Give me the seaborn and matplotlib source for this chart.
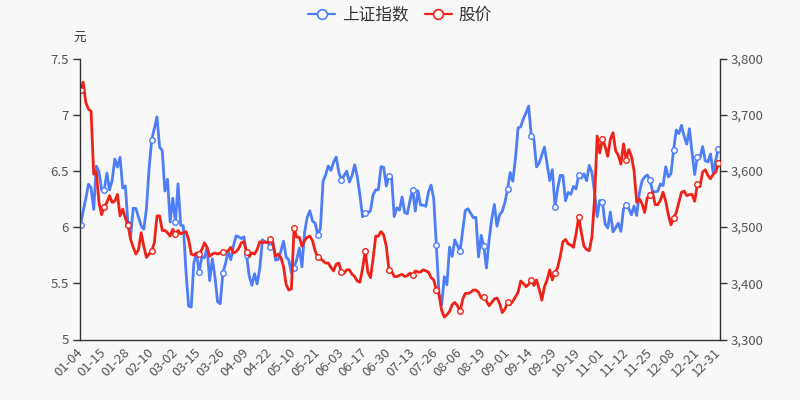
import pandas as pd
import matplotlib
matplotlib.use('Agg')
import matplotlib.pyplot as plt
from matplotlib.lines import Line2D
from matplotlib.ticker import FuncFormatter
import seaborn as sns

# ---------------- data ----------------
holidays = ['2021-01-01', '2021-02-11', '2021-02-12', '2021-02-15', '2021-02-16',
            '2021-02-17', '2021-04-05', '2021-05-03', '2021-05-04', '2021-05-05',
            '2021-06-14', '2021-09-20', '2021-09-21', '2021-10-01', '2021-10-04',
            '2021-10-05', '2021-10-06', '2021-10-07']
dates = [d.strftime('%m-%d') for d in
         pd.bdate_range('2021-01-01', '2021-12-31', freq='C', holidays=holidays)]

sse_index = [
    # Jan
    3502.96, 3528.68, 3550.88, 3576.20, 3570.11, 3531.50, 3608.34, 3598.65, 3565.90, 3566.38,
    3596.22, 3566.12, 3583.09, 3621.26, 3606.75, 3624.24, 3569.43, 3573.34, 3505.18, 3483.07,
    # Feb
    3533.68, 3533.06, 3517.31, 3501.86, 3496.33, 3532.44, 3603.49, 3655.09, 3675.36, 3696.17,
    3642.44, 3636.36, 3564.08, 3585.05, 3509.08,
    # Mar
    3551.40, 3508.59, 3576.90, 3503.49, 3501.99, 3421.41, 3359.29, 3357.74, 3436.83, 3453.08,
    3419.95, 3446.73, 3445.55, 3463.07, 3404.66, 3443.44, 3411.51, 3367.06, 3363.59, 3418.33,
    3435.30, 3456.68, 3441.91,
    # Apr
    3466.33, 3484.39, 3482.59, 3479.63, 3482.55, 3450.68, 3412.95, 3396.47, 3416.99, 3398.99,
    3426.62, 3477.55, 3472.94, 3472.93, 3465.11, 3474.17, 3441.17, 3442.61, 3457.07, 3474.90,
    3446.86,
    # May
    3441.28, 3418.87, 3427.99, 3441.85, 3462.75, 3429.54, 3490.38, 3517.62, 3529.01, 3510.96,
    3506.94, 3486.56, 3497.28, 3581.34, 3593.36, 3608.85, 3600.78, 3615.48,
    # Jun
    3624.71, 3597.14, 3584.22, 3591.84, 3599.54, 3580.11, 3591.40, 3610.86, 3589.75, 3556.56,
    3518.33, 3525.10, 3525.10, 3529.18, 3557.41, 3566.22, 3566.65, 3607.56, 3606.37, 3573.18,
    3591.20,
    # Jul
    3588.78, 3518.76, 3534.32, 3530.26, 3553.72, 3525.50, 3524.09, 3547.84, 3566.47, 3528.50,
    3564.59, 3539.30, 3539.12, 3536.79, 3562.70, 3574.73, 3550.40, 3467.44, 3381.18, 3361.59,
    3411.72, 3397.36,
    # Aug
    3464.29, 3447.99, 3477.22, 3466.56, 3458.23, 3494.63, 3529.93, 3532.62, 3524.74, 3516.76,
    3517.34, 3446.98, 3485.29, 3465.55, 3427.33, 3477.13, 3514.47, 3540.38, 3501.66, 3522.16,
    3528.15, 3543.94,
    # Sep
    3567.10, 3597.04, 3581.73, 3621.86, 3676.59, 3678.63, 3693.13, 3703.11, 3715.37, 3662.60,
    3656.22, 3607.09, 3613.97, 3628.49, 3642.22, 3613.07, 3582.83, 3602.22, 3536.29, 3568.17,
    # Oct
    3592.17, 3591.71, 3546.94, 3561.76, 3558.28, 3572.37, 3568.14, 3593.15, 3587.00, 3594.78,
    3582.60, 3609.86, 3597.64, 3562.31, 3518.42, 3547.34,
    # Nov
    3544.48, 3505.63, 3498.54, 3526.87, 3491.57, 3498.63, 3507.00, 3492.46, 3532.79, 3539.10,
    3533.30, 3521.79, 3537.37, 3520.71, 3560.37, 3582.08, 3589.09, 3592.70, 3584.18, 3564.09,
    3562.70, 3563.89,
    # Dec
    3576.89, 3573.84, 3607.43, 3589.31, 3595.09, 3637.57, 3673.04, 3666.35, 3681.08, 3661.53,
    3647.63, 3675.02, 3632.36, 3593.60, 3625.13, 3622.62, 3643.34, 3618.05, 3615.97, 3630.11,
    3597.00, 3619.19, 3639.78,
]

stock_price = [
    7.22, 7.29, 7.11, 7.05, 7.03, 6.47, 6.49, 6.22, 6.11, 6.18,
    6.22, 6.28, 6.22, 6.23, 6.29, 6.10, 6.16, 6.08, 6.02, 5.89,
    5.82, 5.76, 5.80, 5.95, 5.83, 5.73, 5.76, 5.79, 5.86, 6.10,
    6.10, 5.97, 5.97, 5.95, 5.92, 5.98, 5.94, 5.97, 5.94, 5.95,
    5.96, 5.89, 5.76, 5.75, 5.77, 5.76, 5.80, 5.86, 5.82, 5.74,
    5.76, 5.77, 5.76, 5.77, 5.78, 5.78, 5.79, 5.82, 5.77, 5.78,
    5.81, 5.86, 5.87, 5.78, 5.74, 5.77, 5.76, 5.80, 5.87, 5.86,
    5.87, 5.86, 5.89, 5.85, 5.74, 5.76, 5.73, 5.65, 5.49, 5.44,
    5.45, 5.99, 5.91, 5.91, 5.83, 5.88, 5.91, 5.92, 5.88, 5.79,
    5.73, 5.72, 5.70, 5.68, 5.68, 5.64, 5.61, 5.67, 5.68, 5.60,
    5.59, 5.62, 5.62, 5.58, 5.56, 5.52, 5.51, 5.63, 5.79, 5.60,
    5.55, 5.72, 5.92, 5.92, 5.96, 5.93, 5.83, 5.62, 5.61, 5.56,
    5.56, 5.57, 5.58, 5.56, 5.57, 5.59, 5.57, 5.61, 5.60, 5.60,
    5.62, 5.61, 5.60, 5.55, 5.53, 5.44, 5.40, 5.26, 5.20, 5.22,
    5.25, 5.31, 5.33, 5.30, 5.25, 5.36, 5.41, 5.41, 5.42, 5.44,
    5.44, 5.42, 5.37, 5.38, 5.34, 5.30, 5.33, 5.36, 5.37, 5.32,
    5.24, 5.27, 5.33, 5.31, 5.34, 5.38, 5.42, 5.52, 5.50, 5.47,
    5.49, 5.53, 5.48, 5.53, 5.45, 5.35, 5.47, 5.53, 5.62, 5.53,
    5.59, 5.64, 5.74, 5.87, 5.89, 5.85, 5.84, 5.82, 5.94, 6.09,
    5.95, 5.83, 5.80, 5.79, 5.91, 6.25, 6.81, 6.66, 6.78, 6.72,
    6.63, 6.78, 6.84, 6.68, 6.64, 6.56, 6.74, 6.60, 6.69, 6.63,
    6.50, 6.22, 6.25, 6.21, 6.13, 6.26, 6.29, 6.31, 6.20, 6.20,
    6.24, 6.31, 6.23, 6.11, 6.02, 6.08, 6.13, 6.22, 6.31, 6.32,
    6.28, 6.29, 6.29, 6.23, 6.38, 6.36, 6.49, 6.51, 6.46, 6.43,
    6.47, 6.49, 6.57,
]

left_ticks = [5, 5.5, 6, 6.5, 7, 7.5]
right_ticks = [3300, 3400, 3500, 3600, 3700, 3800]
series_names = ['上证指数', '股价']
unit_label = '元'

assert len(dates) == len(sse_index) == len(stock_price) == 243

tick_idx = list(range(0, len(dates), 9)) + [len(dates) - 1]
tick_labels = [dates[i] for i in tick_idx]

# ---------------- style ----------------
BG = '#f8f8f8'
BLUE = '#4d7ef7'
RED = '#ee2218'
AXC = '#333333'
TXT = '#555555'

sns.set_theme(style='white')
plt.rcParams['font.family'] = ['Noto Sans CJK SC', 'DejaVu Sans']
plt.rcParams['axes.unicode_minus'] = False

df = pd.DataFrame({'idx': range(len(dates)), 'sse': sse_index, 'price': stock_price})

fig = plt.figure(figsize=(8, 4), dpi=100, facecolor=BG)
ax = fig.add_axes([0.1, 60.5 / 400, 0.8, 281 / 400])
ax.set_facecolor(BG)

sns.lineplot(data=df, x='idx', y='sse', ax=ax, color=BLUE, linewidth=2)
ax2 = ax.twinx()
sns.lineplot(data=df, x='idx', y='price', ax=ax2, color=RED, linewidth=2)

for a, c in ((ax, BLUE), (ax2, RED)):
    ln = a.lines[0]
    ln.set_marker('o')
    ln.set_markevery(tick_idx)
    ln.set_markerfacecolor('white')
    ln.set_markeredgecolor(c)
    ln.set_markersize(4)
    ln.set_markeredgewidth(1)
    ln.set_solid_joinstyle('round')
    a.set_xlabel('')
    a.set_ylabel('')

ax.set_xlim(-0.2, 242.6)
ax.set_ylim(3300, 3800)
ax2.set_ylim(5, 7.5)

ax.yaxis.tick_right()
ax2.yaxis.tick_left()
ax.set_yticks(right_ticks)
ax.yaxis.set_major_formatter(FuncFormatter(lambda v, p: f'{int(v):,}'))
ax2.set_yticks(left_ticks)
ax2.yaxis.set_major_formatter(FuncFormatter(lambda v, p: f'{v:g}'))

ax.set_xticks(tick_idx)
ax.set_xticklabels(tick_labels, rotation=45, ha='right', va='center',
                   rotation_mode='anchor')

for a in (ax, ax2):
    a.tick_params(direction='out', length=5, width=1, color=AXC,
                  labelcolor=TXT, labelsize=9.5, pad=3)
    a.grid(False)

for s in ('top', 'left'):
    ax.spines[s].set_visible(False)
for s in ('top', 'right', 'bottom'):
    ax2.spines[s].set_visible(False)
for s in ('right', 'bottom'):
    ax.spines[s].set_color(AXC)
    ax.spines[s].set_linewidth(1)
ax2.spines['left'].set_color(AXC)
ax2.spines['left'].set_linewidth(1)

fig.text(0.1, 1 - 38 / 400, unit_label, ha='center', va='center', fontsize=9, color=AXC)

handles = [Line2D([], [], color=BLUE, lw=1.6, marker='o', markersize=7,
                  markerfacecolor='white', markeredgecolor=BLUE, markeredgewidth=1.2),
           Line2D([], [], color=RED, lw=1.6, marker='o', markersize=7,
                  markerfacecolor='white', markeredgecolor=RED, markeredgewidth=1.2)]
leg = fig.legend(handles, series_names, loc='center', bbox_to_anchor=(0.5, 1 - 15 / 400),
                 ncol=2, frameon=False, fontsize=12, handlelength=1.6,
                 columnspacing=1.0, handletextpad=0.4)
for t in leg.get_texts():
    t.set_color(AXC)

fig.savefig('out.png', dpi=100, facecolor=BG)
